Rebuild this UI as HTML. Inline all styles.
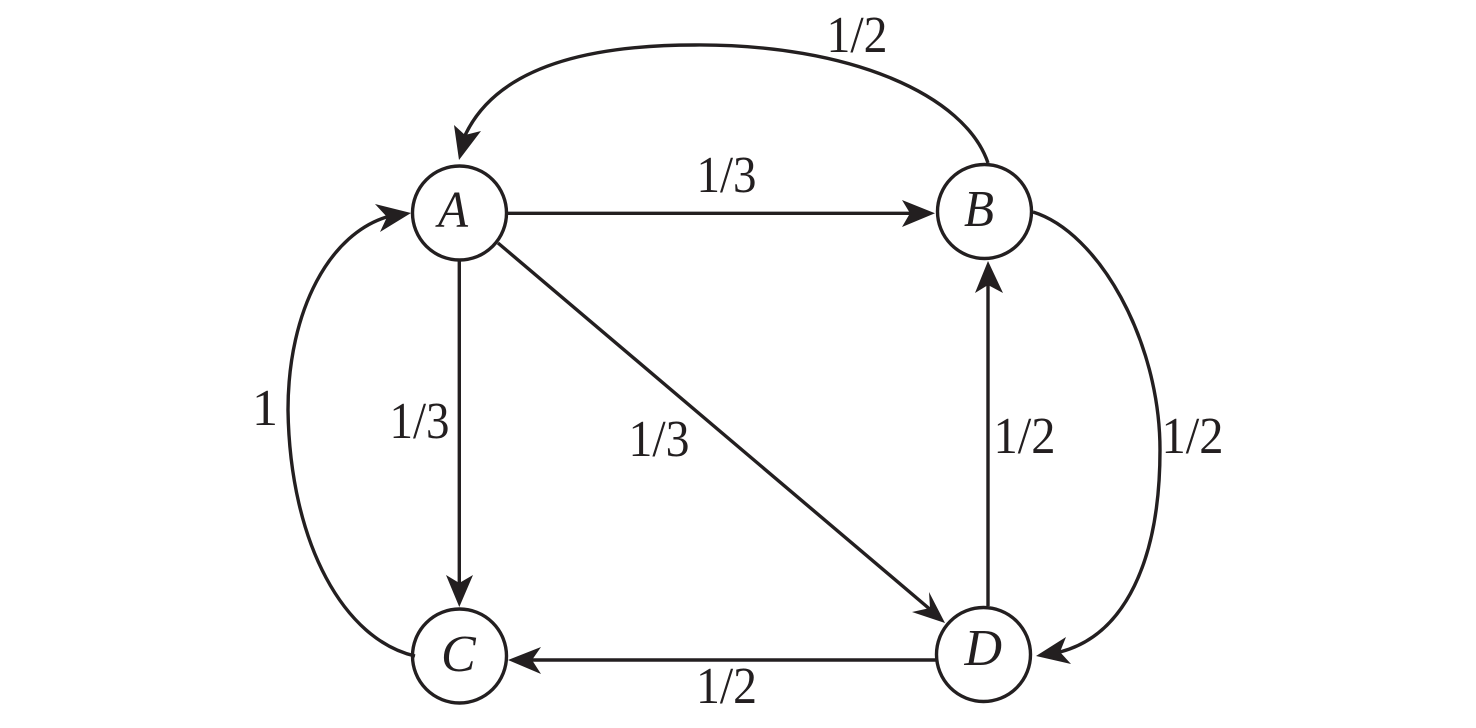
<!DOCTYPE html>
<html>
<head>
<meta charset="utf-8">
<style>
html,body{margin:0;padding:0;background:#fff;width:1476px;height:728px;overflow:hidden}
svg{display:block}
text{font-family:"Liberation Serif",serif;fill:#231f20}
.l{font-size:52px}
.n{font-size:52px;font-style:italic}
</style>
</head>
<body>
<svg width="1476" height="728" viewBox="0 0 1476 728" xmlns="http://www.w3.org/2000/svg">
<g fill="none" stroke="#231f20" stroke-width="3.4">
<circle cx="459.5" cy="213" r="47"/>
<circle cx="984.5" cy="211.5" r="47"/>
<circle cx="459.5" cy="656" r="47"/>
<circle cx="983.5" cy="654.5" r="47"/>
<path d="M507 213.3H912"/>
<path d="M459.3 261V585"/>
<path d="M498 243L932 611"/>
<path d="M988 606V283"/>
<path d="M936 660H530"/>
<path d="M988 163C965 95 850 44 695 45C570 45 490 75 463 140"/>
<path d="M1033 212C1098 232 1160 340 1160 450C1160 560 1125 635 1060 652"/>
<path d="M415 656C345 640 290 545 288 410C288 310 330 232 390 216"/>
</g>
<g fill="#231f20">
<path d="M935 213.3L902 200L910 213.3L902 227Z"/>
<path d="M459.3 607L446 575L459.3 583L473 575Z"/>
<path d="M945 623L929 592L930 608L912 612Z"/>
<path d="M988 261L975 293L988 285L1003 293Z"/>
<path d="M508 660L541 647L532 660L541 674Z"/>
<path d="M459 160L454 125L465 135L481 131Z"/>
<path d="M1036 656L1066 637L1060 652L1071 664Z"/>
<path d="M411 213L375 204L387 217L380 232Z"/>
</g>
<text class="n" x="438" y="227" textLength="30" lengthAdjust="spacingAndGlyphs">A</text>
<text class="n" x="964" y="226" textLength="30" lengthAdjust="spacingAndGlyphs">B</text>
<text class="n" x="441" y="671">C</text>
<text class="n" x="964.5" y="665">D</text>
<text class="l" x="826.5" y="52" textLength="61" lengthAdjust="spacingAndGlyphs">1/2</text>
<text class="l" x="696.5" y="192" textLength="60" lengthAdjust="spacingAndGlyphs">1/3</text>
<text class="l" x="389.5" y="438" textLength="60" lengthAdjust="spacingAndGlyphs">1/3</text>
<text class="l" x="628.5" y="456" textLength="61" lengthAdjust="spacingAndGlyphs">1/3</text>
<text class="l" x="993.5" y="453" textLength="62" lengthAdjust="spacingAndGlyphs">1/2</text>
<text class="l" x="1161.5" y="453" textLength="62" lengthAdjust="spacingAndGlyphs">1/2</text>
<text class="l" x="696" y="703" textLength="61" lengthAdjust="spacingAndGlyphs">1/2</text>
<text class="l" x="252" y="425">1</text>
</svg>
</body>
</html>
